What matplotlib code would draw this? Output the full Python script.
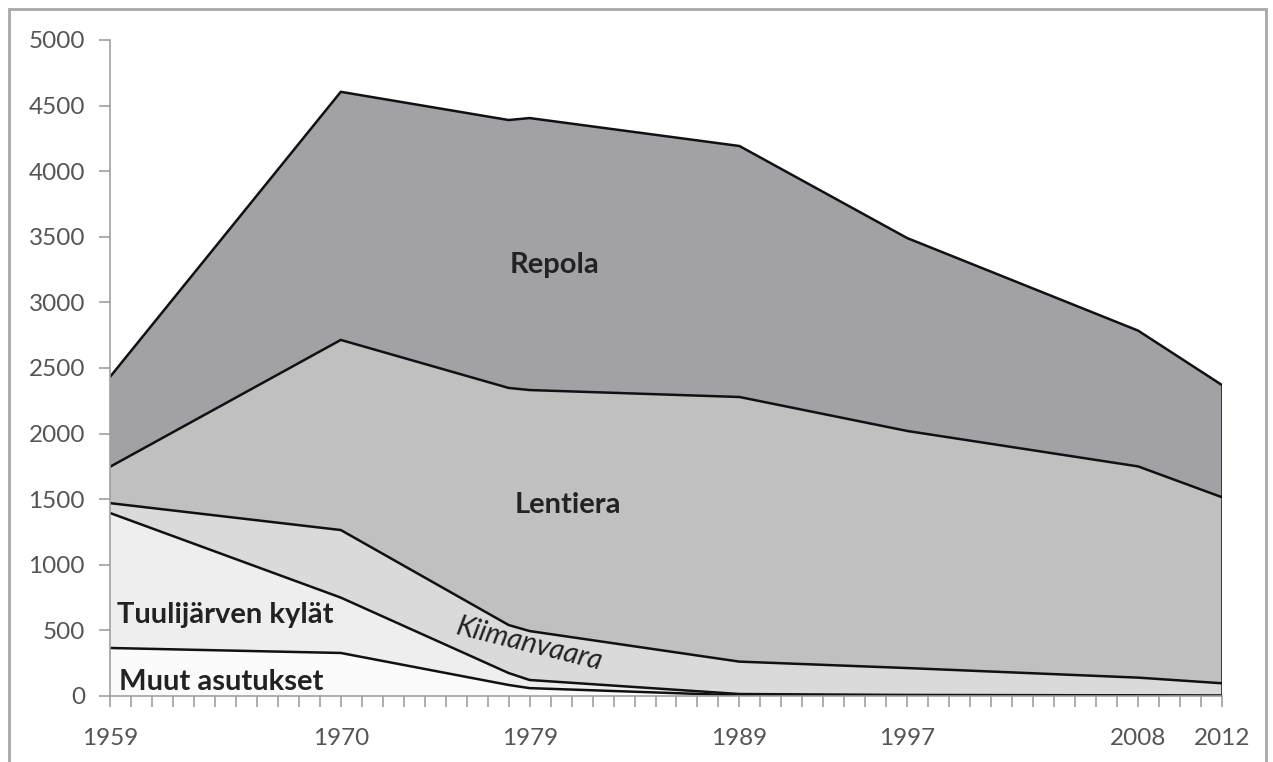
import matplotlib.pyplot as plt
from matplotlib.patches import Rectangle
from matplotlib.ticker import MultipleLocator
import numpy as np

years = [1959, 1970, 1978, 1979, 1989, 1997, 2008, 2012]
muut = [366, 328, 84, 60, 5, 3, 2, 1]
tuuli = [1029, 422, 91, 62, 10, 5, 3, 2]
kiiman = [75, 515, 366, 373, 247, 205, 135, 94]
lentiera = [277, 1449, 1807, 1837, 2017, 1807, 1610, 1418]
repola = [685, 1891, 2042, 2073, 1913, 1470, 1035, 855]

tick_years = [1959, 1970, 1979, 1989, 1997, 2008, 2012]
series = [muut, tuuli, kiiman, lentiera, repola]
colors = ['#fbfbfb', '#eeeeee', '#dadada', '#c0c0c0', '#a2a1a5']

plt.rcParams['font.family'] = ['Lato', 'DejaVu Sans']

fig = plt.figure(figsize=(12.73, 7.62), dpi=100)
ax = fig.add_axes([110 / 1273, 1 - 696 / 762, 1112 / 1273, 656 / 762])

ax.stackplot(years, *series, colors=colors, linewidth=0)
tops = np.cumsum(np.array(series), axis=0)
for top in tops:
    ax.plot(years, top, color='#111111', lw=1.8, solid_joinstyle='round')
ax.vlines(years[-1], 0, tops[-1][-1], color='#111111', lw=1.8)

ax.set_xlim(1959, 2012)
ax.set_ylim(0, 5000)
ax.set_xticks(tick_years)
ax.xaxis.set_minor_locator(MultipleLocator(1))
ax.yaxis.set_major_locator(MultipleLocator(500))
for s in ['top', 'right']:
    ax.spines[s].set_visible(False)
for s in ['left', 'bottom']:
    ax.spines[s].set_color('#a0a0a0')
    ax.spines[s].set_linewidth(1.2)
ax.tick_params(which='both', direction='out', length=8, color='#a0a0a0',
               width=1.2, labelsize=17.5, labelcolor='#555555')
ax.tick_params(axis='x', pad=15)
ax.tick_params(axis='y', pad=10)

lab = dict(fontsize=21, fontweight='bold', color='#222222')
ax.text(1980.2, 3285, 'Repola', ha='center', va='center', **lab)
ax.text(1980.8, 1456, 'Lentiera', ha='center', va='center', **lab)
ax.text(1959.35, 617, 'Tuulijärven kylät', ha='left', va='center', **lab)
ax.text(1959.45, 110, 'Muut asutukset', ha='left', va='center', **lab)
ax.text(1979.0, 390, 'Kiimanvaara', ha='center', va='center', rotation=-14,
        fontsize=20.5, fontstyle='italic', color='#222222')

fig.patches.append(Rectangle((9 / 1273, -0.1), 1257 / 1273, 1.1 - 9 / 762,
                             transform=fig.transFigure, fill=False,
                             edgecolor='#a8a8a8', lw=2))

fig.savefig('out.png', dpi=100)
